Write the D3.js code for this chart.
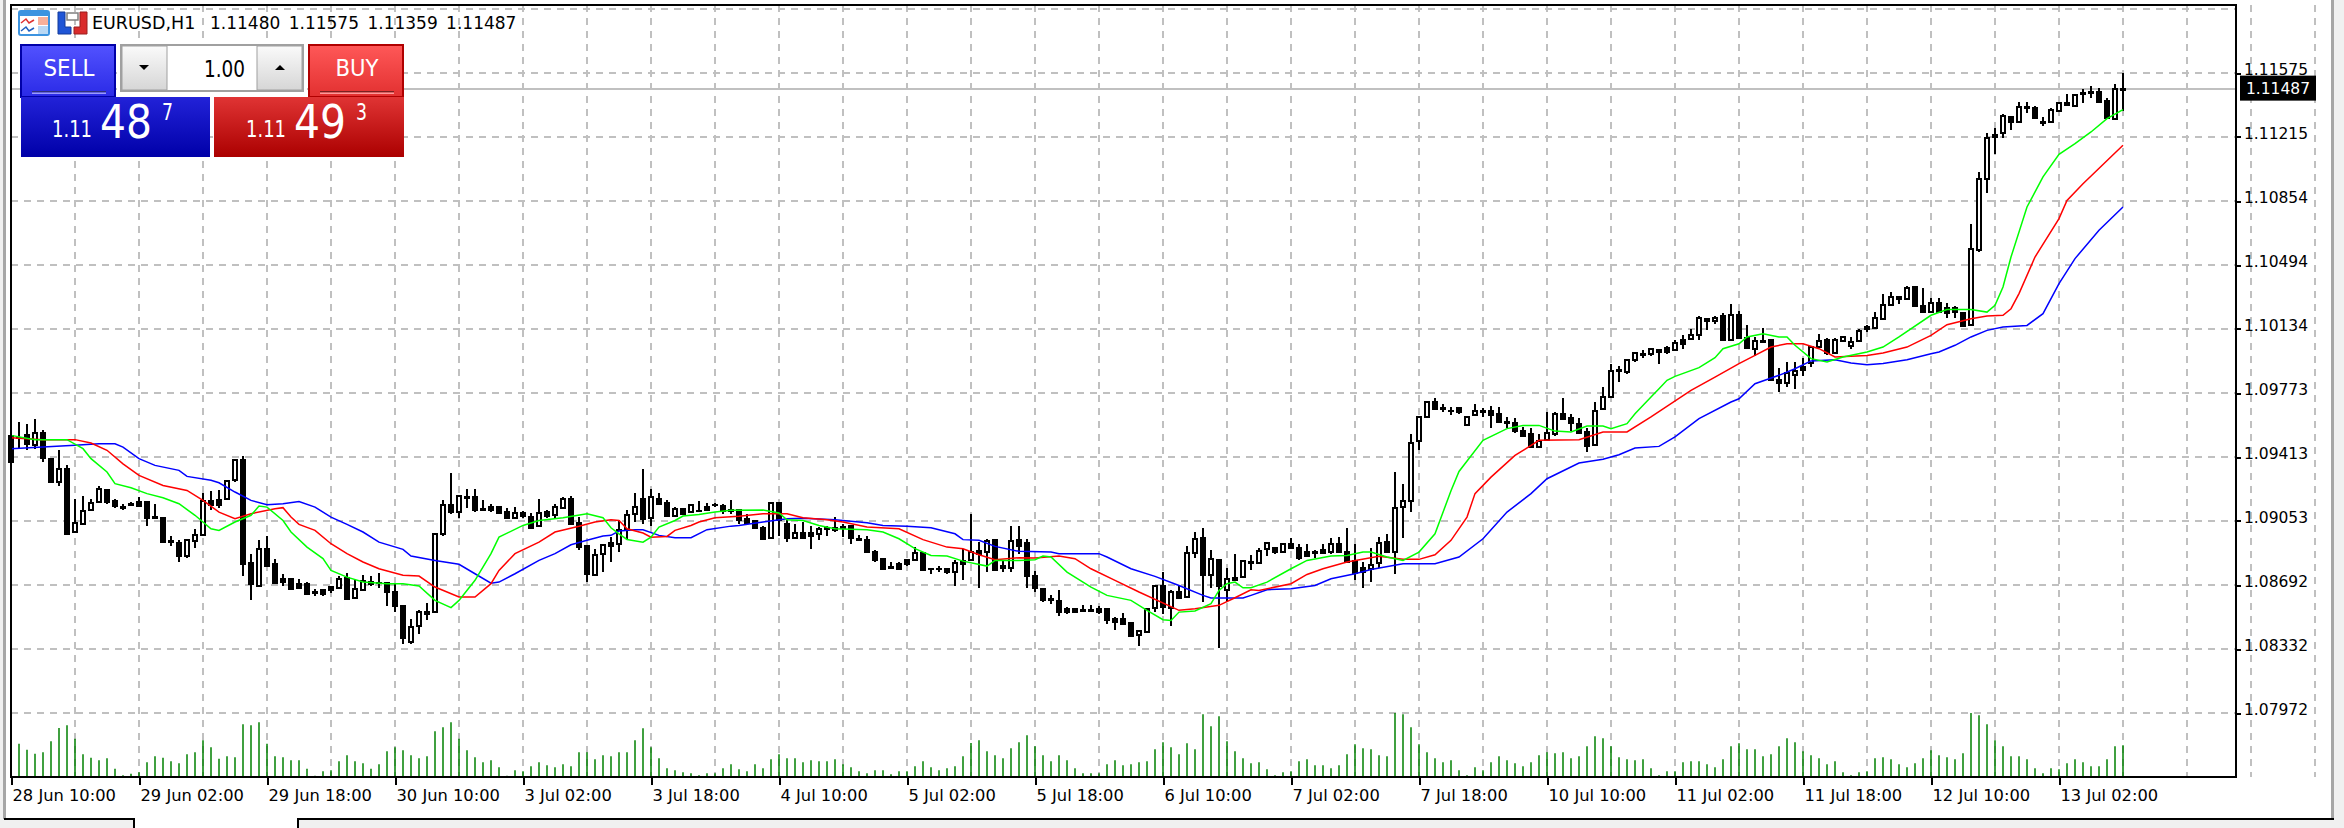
<!DOCTYPE html>
<html>
<head>
  <meta charset="utf-8">
  <script src="https://d3js.org/d3.v7.min.js"></script>
  <title>EURUSD,H1</title>
  <style>
    html, body { margin: 0; padding: 0; background: #f0f0f0; overflow: hidden; }
    text { font-family: "DejaVu Sans", sans-serif; }
  </style>
</head>
<body>
  <svg id="chart" width="2344" height="828"></svg>
  <script>
    // hourly candles, one value per bar
    var opens = [
      1.09530,1.09522,1.09539,1.09479,1.09550,1.09404,1.09272,1.09347,1.08993,1.09038,
      1.09116,1.09161,1.09225,1.09165,1.09131,1.09148,1.09160,1.09158,1.09075,1.09068,
      1.08942,1.08931,1.08856,1.08938,1.08972,1.09165,1.09169,1.09175,1.09282,1.09394,
      1.08816,1.08688,1.08897,1.08809,1.08728,1.08728,1.08696,1.08696,1.08655,1.08662,
      1.08681,1.08677,1.08732,1.08621,1.08666,1.08711,1.08705,1.08702,1.08651,1.08572,
      1.08373,1.08463,1.08531,1.08542,1.08977,1.09144,1.09103,1.09188,1.09188,1.09120,
      1.09131,1.09131,1.09103,1.09071,1.09098,1.09075,1.09026,1.09101,1.09084,1.09128,
      1.09178,1.09043,1.08910,1.08747,1.08869,1.08931,1.08925,1.09000,1.09094,1.09178,
      1.09071,1.09178,1.09156,1.09081,1.09122,1.09105,1.09111,1.09131,1.09145,1.09135,
      1.09113,1.09113,1.09066,1.09053,1.09015,1.08959,1.09156,1.09034,1.08959,1.08987,
      1.08985,1.08981,1.09008,1.09015,1.09021,1.09023,1.08951,1.08944,1.08878,1.08841,
      1.08794,1.08809,1.08831,1.08835,1.08872,1.08784,1.08784,1.08784,1.08765,1.08826,
      1.08835,1.08884,1.08878,1.08944,1.08797,1.08790,1.08944,1.08931,1.08741,1.08672,
      1.08613,1.08604,1.08559,1.08557,1.08550,1.08550,1.08559,1.08559,1.08503,1.08503,
      1.08480,1.08409,1.08428,1.08563,1.08687,1.08561,1.08651,1.08627,1.08871,1.08955,
      1.08749,1.08831,1.08664,1.08720,1.08735,1.08814,1.08814,1.08895,1.08899,1.08880,
      1.08921,1.08899,1.08876,1.08876,1.08889,1.08876,1.08921,1.08876,1.08829,1.08786,
      1.08782,1.08814,1.08932,1.08880,1.09133,1.09165,1.09503,1.09640,1.09721,1.09687,
      1.09674,1.09687,1.09593,1.09650,1.09668,1.09674,1.09653,1.09612,1.09606,1.09561,
      1.09541,1.09467,1.09509,1.09543,1.09655,1.09631,1.09597,1.09552,1.09481,1.09681,
      1.09753,1.09896,1.09892,1.09961,1.09989,1.09991,1.10018,1.10029,1.10018,1.10070,
      1.10076,1.10098,1.10192,1.10179,1.10205,1.10074,1.10215,1.10085,1.10023,1.10059,
      1.10072,1.09847,1.09828,1.09875,1.09922,1.09941,1.10031,1.10072,1.09997,1.10065,
      1.10038,1.10066,1.10147,1.10138,1.10190,1.10269,1.10316,1.10301,1.10369,1.10264,
      1.10232,1.10282,1.10250,1.10250,1.10222,1.10157,1.10579,1.10977,1.11226,1.11235,
      1.11330,1.11301,1.11380,1.11377,1.11300,1.11298,1.11360,1.11408,1.11392,1.11455,
      1.11461,1.11470,1.11420,1.11317,1.11480];
    var highs = [
      1.09535,1.09610,1.09597,1.09629,1.09563,1.09404,1.09451,1.09370,1.09178,1.09192,
      1.09178,1.09248,1.09225,1.09178,1.09146,1.09158,1.09188,1.09163,1.09146,1.09068,
      1.08966,1.08944,1.08953,1.09009,1.09211,1.09221,1.09225,1.09282,1.09404,1.09417,
      1.08865,1.08944,1.08966,1.08841,1.08752,1.08728,1.08724,1.08709,1.08672,1.08672,
      1.08685,1.08741,1.08762,1.08728,1.08747,1.08741,1.08762,1.08705,1.08700,1.08572,
      1.08503,1.08550,1.08593,1.08987,1.09169,1.09325,1.09201,1.09235,1.09235,1.09173,
      1.09146,1.09135,1.09124,1.09131,1.09109,1.09098,1.09178,1.09113,1.09146,1.09188,
      1.09192,1.09075,1.08910,1.08893,1.08921,1.08963,1.09056,1.09113,1.09212,1.09347,
      1.09235,1.09212,1.09169,1.09131,1.09122,1.09141,1.09163,1.09156,1.09154,1.09146,
      1.09169,1.09122,1.09090,1.09056,1.09023,1.09156,1.09156,1.09060,1.09034,1.09047,
      1.09023,1.09019,1.09023,1.09075,1.09038,1.09028,1.08976,1.08966,1.08887,1.08841,
      1.08820,1.08820,1.08841,1.08906,1.08872,1.08784,1.08797,1.08788,1.08831,1.08897,
      1.09090,1.08934,1.08953,1.08953,1.08827,1.09023,1.09023,1.08953,1.08771,1.08672,
      1.08634,1.08662,1.08568,1.08557,1.08581,1.08581,1.08574,1.08559,1.08512,1.08535,
      1.08480,1.08433,1.08559,1.08694,1.08767,1.08664,1.08692,1.08912,1.08989,1.09011,
      1.08889,1.08831,1.08786,1.08865,1.08829,1.08861,1.08899,1.08931,1.08899,1.08921,
      1.08955,1.08921,1.08921,1.08889,1.08921,1.08955,1.08964,1.09011,1.08921,1.08820,
      1.08899,1.08964,1.08979,1.09327,1.09259,1.09541,1.09640,1.09730,1.09743,1.09710,
      1.09696,1.09696,1.09640,1.09710,1.09687,1.09700,1.09696,1.09640,1.09631,1.09584,
      1.09574,1.09543,1.09665,1.09665,1.09743,1.09653,1.09631,1.09574,1.09721,1.09809,
      1.09935,1.09924,1.09967,1.10003,1.10014,1.10023,1.10023,1.10038,1.10070,1.10098,
      1.10136,1.10205,1.10192,1.10205,1.10226,1.10273,1.10235,1.10158,1.10089,1.10138,
      1.10072,1.09913,1.09946,1.09946,1.09969,1.10040,1.10104,1.10081,1.10081,1.10095,
      1.10091,1.10132,1.10155,1.10228,1.10329,1.10340,1.10322,1.10376,1.10376,1.10363,
      1.10307,1.10307,1.10279,1.10264,1.10232,1.10725,1.11016,1.11240,1.11268,1.11345,
      1.11333,1.11410,1.11410,1.11390,1.11330,1.11377,1.11414,1.11455,1.11457,1.11484,
      1.11502,1.11489,1.11437,1.11512,1.11575];
    var lows = [
      1.09385,1.09466,1.09451,1.09460,1.09385,1.09272,1.09248,1.08981,1.08991,1.09038,
      1.09113,1.09161,1.09146,1.09124,1.09113,1.09135,1.09137,1.09023,1.09071,1.08934,
      1.08912,1.08820,1.08844,1.08900,1.08968,1.09113,1.09126,1.09173,1.09270,1.08743,
      1.08606,1.08688,1.08799,1.08696,1.08685,1.08662,1.08672,1.08640,1.08632,1.08630,
      1.08647,1.08672,1.08606,1.08621,1.08662,1.08687,1.08677,1.08576,1.08538,1.08358,
      1.08358,1.08414,1.08493,1.08540,1.08970,1.09090,1.09069,1.09128,1.09101,1.09116,
      1.09105,1.09090,1.09071,1.09071,1.09071,1.09015,1.09026,1.09071,1.09071,1.09126,
      1.09034,1.08887,1.08707,1.08741,1.08765,1.08822,1.08878,1.08948,1.09047,1.09038,
      1.09023,1.09146,1.09081,1.09081,1.09090,1.09105,1.09107,1.09116,1.09131,1.09090,
      1.09090,1.09034,1.09043,1.09015,1.08948,1.08959,1.08966,1.08932,1.08959,1.08959,
      1.08897,1.08948,1.08966,1.08991,1.08963,1.08921,1.08948,1.08878,1.08820,1.08775,
      1.08790,1.08775,1.08797,1.08831,1.08775,1.08752,1.08764,1.08752,1.08687,1.08719,
      1.08831,1.08675,1.08765,1.08778,1.08765,1.08765,1.08869,1.08675,1.08653,1.08597,
      1.08587,1.08518,1.08527,1.08542,1.08544,1.08540,1.08531,1.08475,1.08437,1.08475,
      1.08405,1.08349,1.08428,1.08540,1.08529,1.08463,1.08613,1.08623,1.08846,1.08598,
      1.08677,1.08339,1.08598,1.08720,1.08733,1.08777,1.08814,1.08857,1.08867,1.08880,
      1.08902,1.08833,1.08857,1.08844,1.08871,1.08867,1.08880,1.08822,1.08720,1.08677,
      1.08711,1.08786,1.08880,1.08754,1.08959,1.09105,1.09452,1.09640,1.09681,1.09665,
      1.09650,1.09655,1.09593,1.09646,1.09636,1.09578,1.09603,1.09578,1.09546,1.09533,
      1.09467,1.09467,1.09503,1.09531,1.09625,1.09559,1.09543,1.09443,1.09477,1.09678,
      1.09749,1.09836,1.09879,1.09948,1.09969,1.09980,1.09935,1.09995,1.10014,1.10023,
      1.10074,1.10070,1.10126,1.10162,1.10074,1.10074,1.10085,1.10025,1.09980,1.10053,
      1.09847,1.09781,1.09806,1.09794,1.09869,1.09922,1.10025,1.09988,1.09993,1.10063,
      1.10020,1.10063,1.10119,1.10132,1.10188,1.10265,1.10275,1.10297,1.10265,1.10222,
      1.10228,1.10222,1.10198,1.10198,1.10143,1.10151,1.10569,1.10898,1.11118,1.11211,
      1.11255,1.11296,1.11348,1.11320,1.11279,1.11292,1.11358,1.11392,1.11382,1.11405,
      1.11437,1.11414,1.11317,1.11317,1.11359];
    var closes = [
      1.09385,1.09518,1.09488,1.09548,1.09409,1.09272,1.09347,1.08981,1.09043,1.09109,
      1.09154,1.09235,1.09160,1.09135,1.09128,1.09144,1.09137,1.09071,1.09071,1.08934,
      1.08936,1.08856,1.08944,1.08974,1.09163,1.09141,1.09144,1.09280,1.09394,1.08812,
      1.08696,1.08897,1.08799,1.08705,1.08709,1.08672,1.08675,1.08640,1.08649,1.08640,
      1.08662,1.08728,1.08615,1.08672,1.08715,1.08700,1.08703,1.08655,1.08574,1.08394,
      1.08456,1.08538,1.08540,1.08977,1.09141,1.09101,1.09192,1.09184,1.09113,1.09116,
      1.09113,1.09098,1.09071,1.09098,1.09081,1.09015,1.09098,1.09079,1.09131,1.09178,
      1.09038,1.08906,1.08756,1.08863,1.08916,1.08910,1.09000,1.09088,1.09131,1.09066,
      1.09188,1.09146,1.09081,1.09122,1.09090,1.09141,1.09107,1.09116,1.09141,1.09109,
      1.09109,1.09056,1.09043,1.09015,1.08951,1.09156,1.09056,1.08959,1.08985,1.08959,
      1.08966,1.09009,1.09011,1.09004,1.09015,1.08957,1.08948,1.08878,1.08831,1.08784,
      1.08790,1.08784,1.08812,1.08874,1.08778,1.08780,1.08780,1.08765,1.08816,1.08812,
      1.08878,1.08865,1.08940,1.08778,1.08791,1.08940,1.08910,1.08743,1.08675,1.08606,
      1.08608,1.08540,1.08540,1.08542,1.08544,1.08544,1.08540,1.08497,1.08484,1.08475,
      1.08405,1.08433,1.08559,1.08687,1.08566,1.08651,1.08617,1.08874,1.08951,1.08747,
      1.08841,1.08687,1.08726,1.08730,1.08829,1.08822,1.08886,1.08931,1.08880,1.08921,
      1.08902,1.08846,1.08857,1.08871,1.08871,1.08921,1.08880,1.08822,1.08758,1.08767,
      1.08807,1.08931,1.08880,1.09124,1.09167,1.09494,1.09640,1.09721,1.09681,1.09681,
      1.09670,1.09668,1.09640,1.09674,1.09674,1.09650,1.09612,1.09606,1.09559,1.09533,
      1.09467,1.09503,1.09550,1.09653,1.09625,1.09603,1.09546,1.09477,1.09674,1.09753,
      1.09899,1.09901,1.09961,1.09999,1.09995,1.10021,1.10006,1.10004,1.10057,1.10051,
      1.10102,1.10194,1.10179,1.10198,1.10074,1.10215,1.10085,1.10029,1.10066,1.10066,
      1.09847,1.09828,1.09884,1.09899,1.09903,1.10035,1.10066,1.09997,1.10072,1.10091,
      1.10063,1.10125,1.10136,1.10194,1.10269,1.10316,1.10301,1.10363,1.10265,1.10232,
      1.10279,1.10232,1.10222,1.10232,1.10151,1.10584,1.10979,1.11208,1.11213,1.11333,
      1.11301,1.11386,1.11386,1.11324,1.11292,1.11367,1.11408,1.11395,1.11452,1.11461,
      1.11467,1.11414,1.11320,1.11485,1.11487];

    // tick volume panel, same bars
    var volumes = [
      90,100,82,70,74,107,147,155,115,68,
      58,50,56,25,5,10,14,44,62,58,
      47,41,68,74,110,89,55,62,59,158,
      155,164,100,62,59,50,50,25,4,17,
      20,47,65,47,41,25,38,77,89,80,
      65,56,62,137,149,164,115,80,59,44,
      50,29,4,20,17,32,44,35,29,38,
      32,74,74,53,65,62,74,74,110,146,
      89,56,26,20,14,11,5,11,11,26,
      38,23,17,38,26,53,68,56,56,44,
      50,47,47,53,38,29,17,11,20,20,
      8,17,17,32,47,29,20,26,32,62,
      102,110,77,65,56,86,104,125,92,65,
      47,65,50,26,11,11,11,38,50,35,
      38,44,47,83,104,89,68,101,83,188,
      152,182,107,77,56,41,44,23,5,14,
      17,47,53,35,35,26,35,68,98,86,
      83,65,62,192,188,149,98,74,56,44,
      50,20,5,29,20,44,62,50,41,32,
      44,65,74,71,74,56,62,92,122,116,
      92,59,53,50,53,26,5,17,17,44,
      47,47,38,29,53,92,101,83,83,62,
      68,92,116,104,77,65,56,38,47,14,
      5,14,17,56,59,53,38,29,41,56,
      80,65,59,53,71,192,185,158,110,92,
      62,62,53,26,11,26,23,41,53,44,
      32,32,53,92,95];

    // the three moving averages, read at the bars where the line bends
    var jawBars = [0,4,8,11,13,14,16,18,21,22,25,26,28,30,32,34,36,38,40,42,44,46,49,50,53,56,58,60,61,63,66,68,70,72,74,75,76,78,79,81,83,85,87,90,91,94,97,99,103,107,109,112,115,118,119,121,123,126,130,131,136,137,140,143,146,149,150,154,155,157,160,163,165,168,170,174,178,181,184,187,190,192,196,199,201,203,206,208,211,215,216,218,221,223,225,228,230,232,234,237,240,241,243,245,247,249,252,254,256,258,261,264];
    var jawValues = [1.09460,1.09469,1.09479,1.09488,1.09488,1.09469,1.09404,1.09366,1.09338,1.09304,1.09282,1.09268,1.09216,1.09169,1.09145,1.09150,1.09163,1.09131,1.09075,1.09034,1.08991,1.08934,1.08893,1.08856,1.08831,1.08809,1.08756,1.08703,1.08709,1.08756,1.08831,1.08869,1.08919,1.08944,1.08968,1.08972,1.08996,1.09004,1.09004,1.08972,1.08959,1.08959,1.09004,1.09024,1.09028,1.09047,1.09066,1.09069,1.09060,1.09043,1.09028,1.09024,1.09015,1.08981,1.08948,1.08944,1.08910,1.08882,1.08878,1.08869,1.08869,1.08850,1.08784,1.08741,1.08690,1.08634,1.08619,1.08619,1.08634,1.08666,1.08672,1.08690,1.08728,1.08756,1.08780,1.08812,1.08812,1.08850,1.08953,1.09103,1.09207,1.09291,1.09379,1.09400,1.09426,1.09464,1.09473,1.09526,1.09629,1.09723,1.09741,1.09826,1.09873,1.09910,1.09954,1.09961,1.09942,1.09933,1.09939,1.09961,1.09995,1.10004,1.10042,1.10089,1.10126,1.10145,1.10154,1.10220,1.10389,1.10530,1.10690,1.10821];
    var teethBars = [0,4,8,10,12,14,16,19,22,24,26,28,30,33,34,35,36,38,40,42,44,46,49,51,53,56,58,60,61,63,66,68,71,73,75,76,77,79,80,82,83,85,86,88,91,94,97,99,102,104,107,111,114,117,119,121,123,126,128,131,133,135,138,141,146,148,151,153,155,156,160,162,164,167,171,174,176,178,180,182,183,185,188,191,196,199,202,205,210,213,216,218,220,222,224,226,228,232,234,237,240,242,245,247,249,250,251,253,256,257,259,264];
    var teethValues = [1.09522,1.09511,1.09511,1.09492,1.09451,1.09375,1.09310,1.09253,1.09225,1.09169,1.09103,1.09066,1.09094,1.09122,1.09128,1.09075,1.09034,1.09000,1.08925,1.08869,1.08822,1.08784,1.08747,1.08743,1.08681,1.08625,1.08625,1.08700,1.08775,1.08869,1.08934,1.08991,1.09023,1.09047,1.09060,1.09056,1.09009,1.08985,1.08962,1.08966,1.09000,1.09028,1.09047,1.09071,1.09079,1.09094,1.09094,1.09071,1.09060,1.09047,1.09019,1.09009,1.08948,1.08906,1.08897,1.08863,1.08835,1.08846,1.08844,1.08856,1.08841,1.08784,1.08719,1.08653,1.08550,1.08559,1.08578,1.08621,1.08666,1.08662,1.08700,1.08752,1.08784,1.08822,1.08854,1.08837,1.08837,1.08863,1.08944,1.09075,1.09207,1.09300,1.09422,1.09507,1.09511,1.09554,1.09554,1.09639,1.09788,1.09863,1.09939,1.09985,1.10032,1.10051,1.10051,1.10023,1.09976,1.09985,1.09999,1.10032,1.10098,1.10158,1.10192,1.10207,1.10211,1.10248,1.10333,1.10539,1.10755,1.10858,1.10952,1.11168];
    var lipsBars = [0,3,7,9,10,12,13,15,17,19,21,23,25,26,28,30,31,32,34,35,37,39,40,42,44,47,49,51,53,55,56,58,60,61,64,66,69,72,74,75,76,77,79,80,81,83,84,86,88,90,94,96,97,99,101,103,107,109,111,113,115,117,119,122,123,126,128,129,130,132,135,137,140,142,144,145,146,148,150,151,152,153,154,155,157,160,162,165,167,169,170,172,174,176,178,180,181,184,187,189,191,193,195,197,199,200,202,203,205,206,207,208,211,213,214,216,217,219,221,222,223,225,227,229,232,234,236,240,242,245,247,248,249,250,252,254,256,258,260,262,264];
    var lipsValues = [1.09535,1.09511,1.09511,1.09460,1.09404,1.09329,1.09263,1.09240,1.09207,1.09184,1.09150,1.09085,1.09009,1.09000,1.09047,1.09085,1.09137,1.09131,1.09056,1.08991,1.08906,1.08841,1.08775,1.08737,1.08709,1.08700,1.08700,1.08687,1.08606,1.08565,1.08606,1.08719,1.08869,1.08962,1.09028,1.09056,1.09071,1.09094,1.09071,1.09015,1.08981,1.08949,1.08934,1.08962,1.09019,1.09056,1.09081,1.09090,1.09103,1.09113,1.09115,1.09098,1.09060,1.09056,1.09028,1.09009,1.09004,1.08991,1.08953,1.08897,1.08859,1.08856,1.08827,1.08799,1.08831,1.08831,1.08835,1.08856,1.08850,1.08765,1.08681,1.08634,1.08606,1.08550,1.08497,1.08493,1.08540,1.08546,1.08587,1.08662,1.08700,1.08709,1.08677,1.08677,1.08709,1.08784,1.08831,1.08856,1.08859,1.08878,1.08878,1.08850,1.08831,1.08878,1.08981,1.09223,1.09332,1.09507,1.09573,1.09591,1.09591,1.09559,1.09554,1.09588,1.09588,1.09573,1.09601,1.09657,1.09751,1.09797,1.09845,1.09867,1.09916,1.09972,1.10023,1.10051,1.10089,1.10107,1.10089,1.10089,1.10042,1.09967,1.09948,1.09976,1.10004,1.10032,1.10089,1.10211,1.10243,1.10243,1.10229,1.10267,1.10370,1.10539,1.10821,1.10990,1.11117,1.11177,1.11243,1.11318,1.11369];

    var priceTicks = [1.11575,1.11215,1.10854,1.10494,1.10134,1.09773,1.09413,1.09053,1.08692,1.08332,1.07972];
    var hiddenTopGrid = 1.11936;
    var dateLabels = ["28 Jun 10:00","29 Jun 02:00","29 Jun 18:00","30 Jun 10:00","3 Jul 02:00","3 Jul 18:00","4 Jul 10:00","5 Jul 02:00","5 Jul 18:00","6 Jul 10:00","7 Jul 02:00","7 Jul 18:00","10 Jul 10:00","11 Jul 02:00","11 Jul 18:00","12 Jul 10:00","13 Jul 02:00"];
    var symbolLabel = "EURUSD,H1";
    var ohlcLabel = "1.11480 1.11575 1.11359 1.11487";
    var lastPrice = 1.11487;

    var svg = d3.select("#chart");
    var barCount = opens.length;
    var x = d3.scaleLinear().domain([0, barCount - 1]).range([11, 2123]);
    var y = d3.scaleLinear().domain([1.07972, 1.11575]).range([713, 73]);
    var yVol = d3.scaleLinear().domain([0, 192]).range([777, 713]);
    var left = 11, right = 2236, top_ = 5, bottom = 777;

    // window backgrounds
    svg.append("rect").attr("x", 3).attr("y", 0).attr("width", 2331).attr("height", 819).attr("fill", "white");
    svg.append("rect").attr("x", 134).attr("y", 819).attr("width", 164).attr("height", 9).attr("fill", "white");

    var defs = svg.append("defs");
    function gradient(id, c1, c2) {
      var g = defs.append("linearGradient").attr("id", id).attr("x1", 0).attr("x2", 0).attr("y1", 0).attr("y2", 1);
      g.append("stop").attr("offset", "0%").attr("stop-color", c1);
      g.append("stop").attr("offset", "100%").attr("stop-color", c2);
    }
    gradient("sellTop", "#5252ff", "#2a2ae6");
    gradient("sellBottom", "#2222d8", "#0000a8");
    gradient("buyTop", "#ff5858", "#e23030");
    gradient("buyBottom", "#e03434", "#ab0000");
    gradient("lotBtn", "#fafafa", "#d6d6d6");

    // grid
    var grid = svg.append("g").attr("stroke", "#c0c0c0").attr("stroke-width", 2)
      .attr("stroke-dasharray", "7,6").attr("shape-rendering", "crispEdges");
    grid.selectAll("line.h").data([hiddenTopGrid].concat(priceTicks)).enter().append("line")
      .attr("x1", left).attr("x2", right)
      .attr("y1", function(d) { return y(d); }).attr("y2", function(d) { return y(d); });
    grid.selectAll("line.v").data(d3.range(8, barCount + 24, 8)).enter().append("line")
      .attr("x1", function(d) { return x(d); }).attr("x2", function(d) { return x(d); })
      .attr("y1", top_).attr("y2", bottom);

    // last price line
    svg.append("line").attr("x1", left).attr("x2", right)
      .attr("y1", y(lastPrice)).attr("y2", y(lastPrice))
      .attr("stroke", "#c0c0c0").attr("stroke-width", 2).attr("shape-rendering", "crispEdges");

    // volumes
    svg.append("g").selectAll("line").data(volumes).enter().append("line")
      .attr("x1", function(d, i) { return x(i); }).attr("x2", function(d, i) { return x(i); })
      .attr("y1", yVol(0)).attr("y2", function(d) { return yVol(d); })
      .attr("stroke", "#008000").attr("stroke-width", 1.5);

    // candles
    var candles = svg.append("g").attr("shape-rendering", "crispEdges");
    var bars = candles.selectAll("g").data(d3.range(barCount)).enter().append("g");
    bars.append("line")
      .attr("x1", function(i) { return x(i); }).attr("x2", function(i) { return x(i); })
      .attr("y1", function(i) { return y(highs[i]); }).attr("y2", function(i) { return y(lows[i]); })
      .attr("stroke", "black").attr("stroke-width", 2);
    bars.append("rect")
      .attr("x", function(i) { return x(i) - 2; })
      .attr("width", 4)
      .attr("y", function(i) { return y(Math.max(opens[i], closes[i])); })
      .attr("height", function(i) { return Math.abs(y(opens[i]) - y(closes[i])); })
      .attr("fill", function(i) { return closes[i] >= opens[i] ? "white" : "black"; })
      .attr("stroke", "black").attr("stroke-width", 2);

    // moving averages
    function drawAverage(barsIdx, values, color) {
      var line = d3.line()
        .x(function(d) { return x(d); })
        .y(function(d, i) { return y(values[i]); });
      svg.append("path").attr("d", line(barsIdx))
        .attr("fill", "none").attr("stroke", color).attr("stroke-width", 1.5);
    }
    drawAverage(jawBars, jawValues, "#0000ff");
    drawAverage(teethBars, teethValues, "#ff0000");
    drawAverage(lipsBars, lipsValues, "#00ff00");

    // frame and outer window lines
    svg.append("rect").attr("x", left).attr("y", top_).attr("width", right - left).attr("height", bottom - top_)
      .attr("fill", "none").attr("stroke", "black").attr("stroke-width", 2).attr("shape-rendering", "crispEdges");
    svg.append("rect").attr("x", 3).attr("y", 0).attr("width", 3).attr("height", 819).attr("fill", "#a6a6a6");
    svg.append("rect").attr("x", 2331).attr("y", 0).attr("width", 3).attr("height", 819).attr("fill", "#a6a6a6");
    svg.append("path").attr("d", "M4,819H134V828M298,828V819H2334")
      .attr("fill", "none").attr("stroke", "black").attr("stroke-width", 2).attr("shape-rendering", "crispEdges");

    // axes
    var yAxis = d3.axisRight(y).tickValues(priceTicks).tickSize(5).tickPadding(3).tickFormat(d3.format(".5f"));
    var gy = svg.append("g").attr("transform", "translate(" + right + ",0)").call(yAxis);
    gy.select(".domain").remove();
    gy.selectAll("line").attr("stroke", "black").attr("stroke-width", 2).attr("shape-rendering", "crispEdges");
    gy.selectAll("text").attr("font-family", "DejaVu Sans").attr("font-size", 15.5).attr("fill", "black")
      .attr("y", 0).attr("dy", 1.7);

    var xAxis = d3.axisBottom(x).tickValues(dateLabels.map(function(d, i) { return i * 16; }))
      .tickSize(8).tickPadding(4)
      .tickFormat(function(d, i) { return dateLabels[i]; });
    var gx = svg.append("g").attr("transform", "translate(0," + bottom + ")").call(xAxis);
    gx.select(".domain").remove();
    gx.selectAll("line").attr("stroke", "black").attr("stroke-width", 2).attr("shape-rendering", "crispEdges");
    gx.selectAll("text").attr("font-family", "DejaVu Sans").attr("font-size", 16.3).attr("fill", "black")
      .attr("text-anchor", "start").attr("x", 1).attr("y", 24).attr("dy", 0);

    // last price box
    svg.append("rect").attr("x", 2240).attr("y", y(lastPrice) - 13).attr("width", 76).attr("height", 25).attr("fill", "black");
    svg.append("text").attr("x", 2278).attr("y", y(lastPrice) + 5.5).attr("text-anchor", "middle")
      .attr("font-size", 15.5).attr("fill", "white").text(d3.format(".5f")(lastPrice));

    // header icons and title
    var icon = svg.append("g");
    icon.append("rect").attr("x", 19).attr("y", 11).attr("width", 30).attr("height", 24).attr("rx", 2)
      .attr("fill", "white").attr("stroke", "#3d94e0").attr("stroke-width", 2);
    icon.append("rect").attr("x", 19).attr("y", 11).attr("width", 30).attr("height", 5).attr("fill", "#3d94e0");
    icon.append("rect").attr("x", 38).attr("y", 17).attr("width", 10).attr("height", 8).attr("fill", "#f8b09a");
    icon.append("rect").attr("x", 38).attr("y", 26).attr("width", 10).attr("height", 8).attr("fill", "#b9d8f4");
    icon.append("path").attr("d", "M21,23L26,19L29,23L34,20").attr("fill", "none").attr("stroke", "#e03030").attr("stroke-width", 1.5);
    icon.append("path").attr("d", "M21,31L26,27L29,31L34,28").attr("fill", "none").attr("stroke", "#2060c0").attr("stroke-width", 1.5);
    icon.append("path").attr("d", "M58,12H65V27H71V34H58Z").attr("fill", "#1f55d6").attr("stroke", "#123a9a");
    icon.append("path").attr("d", "M80,12H87V34H74V27H80Z").attr("fill", "#d92c2c").attr("stroke", "#9a1f1f");
    icon.append("rect").attr("x", 67).attr("y", 13).attr("width", 11).attr("height", 7).attr("fill", "white").attr("stroke", "#808080").attr("stroke-width", 1.5);

    svg.append("text").attr("x", 92).attr("y", 29).attr("font-size", 17.5).attr("fill", "black").text(symbolLabel);
    svg.append("text").attr("x", 210).attr("y", 29).attr("font-size", 17).attr("word-spacing", 3).attr("fill", "black").text(ohlcLabel);

    // trade panel
    var panel = svg.append("g");
    panel.append("rect").attr("x", 117).attr("y", 44).attr("width", 190).attr("height", 53).attr("fill", "white");
    panel.append("path").attr("d", "M21,45H115V97H21Z").attr("fill", "url(#sellTop)").attr("stroke", "#0000a8").attr("stroke-width", 2);
    panel.append("path").attr("d", "M21,97H210V157H21Z").attr("fill", "url(#sellBottom)").attr("stroke", "none");
    panel.append("path").attr("d", "M309,45H403V97H309Z").attr("fill", "url(#buyTop)").attr("stroke", "#b00000").attr("stroke-width", 2);
    panel.append("path").attr("d", "M214,97H404V157H214Z").attr("fill", "url(#buyBottom)").attr("stroke", "none");
    panel.append("rect").attr("x", 121).attr("y", 45).attr("width", 182).attr("height", 46).attr("fill", "white").attr("stroke", "#a0a0a0").attr("stroke-width", 2);
    panel.append("rect").attr("x", 122).attr("y", 46).attr("width", 45).attr("height", 44).attr("fill", "url(#lotBtn)").attr("stroke", "#a0a0a0");
    panel.append("rect").attr("x", 257).attr("y", 46).attr("width", 45).attr("height", 44).attr("fill", "url(#lotBtn)").attr("stroke", "#a0a0a0");
    panel.append("path").attr("d", "M139,65H149L144,70Z").attr("fill", "black");
    panel.append("path").attr("d", "M275,70H285L280,65Z").attr("fill", "black");
    panel.append("text").attr("x", 204).attr("y", 77).attr("font-size", 23).attr("fill", "black")
      .attr("textLength", 41).attr("lengthAdjust", "spacingAndGlyphs").text("1.00");

    panel.append("rect").attr("x", 32).attr("y", 91).attr("width", 74).attr("height", 1.5).attr("fill", "#30307a");
    panel.append("rect").attr("x", 32).attr("y", 92.5).attr("width", 74).attr("height", 1.5).attr("fill", "#9a9aff");
    panel.append("rect").attr("x", 320).attr("y", 91).attr("width", 74).attr("height", 1.5).attr("fill", "#7a2020");
    panel.append("rect").attr("x", 320).attr("y", 92.5).attr("width", 74).attr("height", 1.5).attr("fill", "#ff9a9a");
    panel.append("text").attr("x", 69).attr("y", 76).attr("text-anchor", "middle").attr("font-size", 23).attr("fill", "white")
      .attr("textLength", 51).attr("lengthAdjust", "spacingAndGlyphs").text("SELL");
    panel.append("text").attr("x", 357).attr("y", 76).attr("text-anchor", "middle").attr("font-size", 23).attr("fill", "white")
      .attr("textLength", 43).attr("lengthAdjust", "spacingAndGlyphs").text("BUY");

    function priceText(xA, xB, xC, bigDigits, smallDigit) {
      panel.append("text").attr("x", xA).attr("y", 137).attr("font-size", 23).attr("fill", "white")
        .attr("textLength", 40).attr("lengthAdjust", "spacingAndGlyphs").text("1.11");
      panel.append("text").attr("x", xB).attr("y", 138).attr("font-size", 47).attr("fill", "white")
        .attr("textLength", 52).attr("lengthAdjust", "spacingAndGlyphs").text(bigDigits);
      panel.append("text").attr("x", xC).attr("y", 120).attr("font-size", 23).attr("fill", "white")
        .attr("textLength", 11).attr("lengthAdjust", "spacingAndGlyphs").text(smallDigit);
    }
    priceText(52, 100, 162, "48", "7");
    priceText(246, 294, 356, "49", "3");
  </script>
</body>
</html>
